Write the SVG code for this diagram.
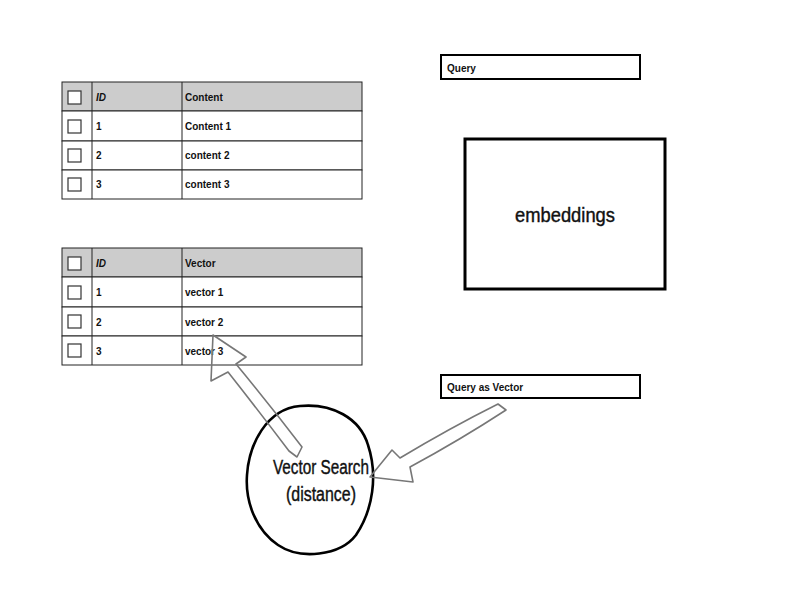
<svg xmlns="http://www.w3.org/2000/svg" width="785" height="602" viewBox="0 0 785 602">
<style>
.tbl{fill:#fff;stroke:#222;stroke-width:1}
.hdr{fill:#cccccc;stroke:#222;stroke-width:1}
.cb{fill:#fff;stroke:#333;stroke-width:1.2}
.sm{font-family:"Liberation Sans",Arial,sans-serif;font-size:10px;font-weight:bold;fill:#111}
.box{fill:#fff;stroke:#000;stroke-width:2}
.big{font-family:"Liberation Sans",Arial,sans-serif;font-size:20px;fill:#111;stroke:#111;stroke-width:0.4;text-anchor:middle}
.arrow{fill:none;stroke:#777;stroke-width:1.6;stroke-linejoin:round}
</style>
<rect width="785" height="602" fill="#fff"/>
<g id="table-content">
<rect class="hdr" x="62" y="82" width="300" height="29"/>
<rect class="tbl" x="62" y="111" width="300" height="30"/>
<rect class="tbl" x="62" y="141" width="300" height="29"/>
<rect class="tbl" x="62" y="170" width="300" height="29"/>
<line x1="92" y1="82" x2="92" y2="199" stroke="#222"/>
<line x1="182" y1="82" x2="182" y2="199" stroke="#222"/>
<rect class="cb" x="68" y="91" width="13" height="13"/>
<rect class="cb" x="68" y="120" width="13" height="13"/>
<rect class="cb" x="68" y="149" width="13" height="13"/>
<rect class="cb" x="68" y="178" width="13" height="13"/>
<text class="sm" x="96" y="101" font-style="italic">ID</text>
<text class="sm" x="185" y="101">Content</text>
<text class="sm" x="96" y="130">1</text>
<text class="sm" x="185" y="130">Content 1</text>
<text class="sm" x="96" y="159">2</text>
<text class="sm" x="185" y="159">content 2</text>
<text class="sm" x="96" y="188">3</text>
<text class="sm" x="185" y="188">content 3</text>
</g>
<g id="table-vector">
<rect class="hdr" x="62" y="248" width="300" height="29"/>
<rect class="tbl" x="62" y="277" width="300" height="30"/>
<rect class="tbl" x="62" y="307" width="300" height="29"/>
<rect class="tbl" x="62" y="336" width="300" height="29"/>
<line x1="92" y1="248" x2="92" y2="365" stroke="#222"/>
<line x1="182" y1="248" x2="182" y2="365" stroke="#222"/>
<rect class="cb" x="68" y="257" width="13" height="13"/>
<rect class="cb" x="68" y="286" width="13" height="13"/>
<rect class="cb" x="68" y="315" width="13" height="13"/>
<rect class="cb" x="68" y="344" width="13" height="13"/>
<text class="sm" x="96" y="267" font-style="italic">ID</text>
<text class="sm" x="185" y="267">Vector</text>
<text class="sm" x="96" y="296">1</text>
<text class="sm" x="185" y="296">vector 1</text>
<text class="sm" x="96" y="326">2</text>
<text class="sm" x="185" y="326">vector 2</text>
<text class="sm" x="96" y="355">3</text>
<text class="sm" x="185" y="355">vector 3</text>
</g>
<g id="query">
<rect class="box" x="441" y="55" width="199" height="24"/>
<text class="sm" x="447" y="72">Query</text>
</g>
<g id="embeddings">
<rect x="465" y="139" width="200" height="150" fill="#fff" stroke="#000" stroke-width="3"/>
<text class="big" x="565" y="222" textLength="100" lengthAdjust="spacingAndGlyphs">embeddings</text>
</g>
<g id="query-as-vector">
<rect class="box" x="441" y="375" width="199" height="23"/>
<text class="sm" x="447" y="391">Query as Vector</text>
</g>
<g id="vector-search">
<path d="M 300,406 C 332,403 360,418 368,445 C 378,475 373,510 356,535 C 340,556 300,560 278,545 C 256,530 245,502 247,475 C 249,445 266,409 300,406 Z" fill="none" stroke="#000" stroke-width="2.6"/>
</g>
<g id="connectors">
<path class="arrow" d="M 213,335 L 246,357 L 236,364 Q 270,405 302,447 L 297,457 L 289,451 Q 258,410 228,372 L 211,381 Z"/>
<path class="arrow" d="M 370,477 L 392,450 L 400,458 Q 450,428 498,404 L 506,410 Q 460,440 410,467 L 413,482 Z"/>
</g>
<g id="vector-search-label">
<text class="big" x="321" y="474" textLength="96" lengthAdjust="spacingAndGlyphs">Vector Search</text>
<text class="big" x="321" y="501" textLength="70" lengthAdjust="spacingAndGlyphs">(distance)</text>
</g>
</svg>
